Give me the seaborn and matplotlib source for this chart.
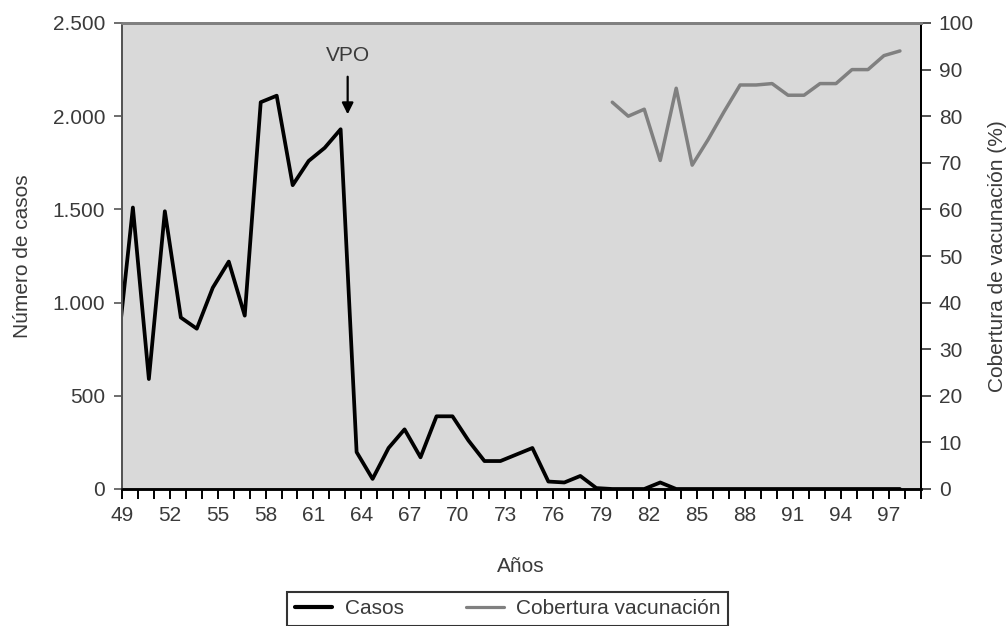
import numpy as np
import pandas as pd
import matplotlib
matplotlib.use("Agg")
import matplotlib.pyplot as plt
from matplotlib.ticker import FuncFormatter, FixedLocator
from matplotlib.lines import Line2D
import seaborn as sns

# ---------------- data ----------------
case_years = list(range(49, 99))  # 1949 .. 1998
cases = [710, 1510, 590, 1490, 920, 860, 1080, 1220, 930, 2075,
         2110, 1630, 1760, 1830, 1930, 198, 54, 220, 320, 170,
         390, 390, 260, 150, 150, 185, 220, 40, 35, 70,
         5, 0, 0, 0, 35, 0, 0, 0, 0, 0,
         0, 0, 0, 0, 0, 0, 0, 0, 0, 0]
cov_years = list(range(80, 99))  # 1980 .. 1998
coverage = [83, 80, 81.5, 70.5, 86, 69.5, 75, 81, 86.7, 86.7,
            87, 84.5, 84.5, 87, 87, 90, 90, 93, 94]
tick_years = list(range(49, 100))
label_years = list(range(49, 98, 3))

df_cases = pd.DataFrame({"year": case_years, "casos": cases})
df_cov = pd.DataFrame({"year": cov_years, "cobertura": coverage})

# ---------------- style ----------------
sns.set_style("ticks")
plt.rcParams["font.family"] = ["Liberation Sans", "DejaVu Sans"]
FS = 15
TXT = "#3a3a3a"

fig = plt.figure(figsize=(10.07, 6.26), dpi=100)
ax = fig.add_axes([121.7 / 1007, 1 - 489 / 626, (920.7 - 121.7) / 1007, (489 - 23) / 626])
ax.set_facecolor("#d9d9d9")

sns.lineplot(data=df_cases, x="year", y="casos", ax=ax, color="black",
             linewidth=2.7, legend=False)
ax2 = ax.twinx()
sns.lineplot(data=df_cov, x="year", y="cobertura", ax=ax2, color="#808080",
             linewidth=2.5, legend=False)

# axis offset: labelled tick t sits 0.3 to the right of data year t
off = 0.3
ax.set_xlim(49 + off, 99 + off)
ax.set_ylim(0, 2500)
ax2.set_ylim(0, 100)

ax.xaxis.set_major_locator(FixedLocator([t + off for t in tick_years]))
ax.set_xticklabels([str(t) if t in label_years else "" for t in tick_years])
ax.set_yticks(np.arange(0, 2501, 500))
ax.yaxis.set_major_formatter(FuncFormatter(lambda v, p: f"{int(v):,}".replace(",", ".")))
ax2.set_yticks(np.arange(0, 101, 10))

ax.tick_params(axis="x", direction="out", length=7, width=1.4, color="black",
               labelsize=FS, labelcolor=TXT, pad=5)
ax.tick_params(axis="y", direction="out", length=6, width=1.2, color="#555555",
               labelsize=FS, labelcolor=TXT, pad=6)
ax2.tick_params(axis="y", direction="out", length=7, width=1.2, color="#333333",
                labelsize=FS, labelcolor=TXT, pad=6)

ax.set_xlabel("Años", fontsize=FS, color=TXT, labelpad=23)
ax.set_ylabel("Número de casos", fontsize=FS, color=TXT, labelpad=15)
ax2.set_ylabel("Cobertura de vacunación (%)", fontsize=FS, color=TXT, labelpad=10)

for a in (ax, ax2):
    a.spines["top"].set_color("#808080")
    a.spines["top"].set_linewidth(2.0)
    a.spines["left"].set_color("#555555")
    a.spines["left"].set_linewidth(1.4)
    a.spines["right"].set_color("black")
    a.spines["right"].set_linewidth(1.4)
    a.spines["bottom"].set_color("black")
    a.spines["bottom"].set_linewidth(1.8)

# VPO annotation
ax.annotate("VPO", xy=(63.44, 2010), xytext=(63.44, 2325),
            ha="center", va="center", fontsize=FS, color=TXT,
            arrowprops=dict(arrowstyle="-|>", color="black", lw=1.6,
                            mutation_scale=17, shrinkA=6, shrinkB=0))

handles = [Line2D([], [], color="black", lw=3.0),
           Line2D([], [], color="#808080", lw=2.3)]
fig.legend(handles, ["Casos", "Cobertura vacunación"], loc="upper center",
           bbox_to_anchor=(507.5 / 1007, 1 - 592 / 626), ncol=2,
           frameon=True, fancybox=False, edgecolor="#333333", framealpha=1,
           fontsize=FS, handlelength=1.8, handletextpad=0.6,
           columnspacing=3.0, borderpad=0.35, borderaxespad=0.0,
           labelcolor=TXT)
fig.legends[0].get_frame().set_linewidth(1.5)

fig.savefig("out.png", dpi=100)
